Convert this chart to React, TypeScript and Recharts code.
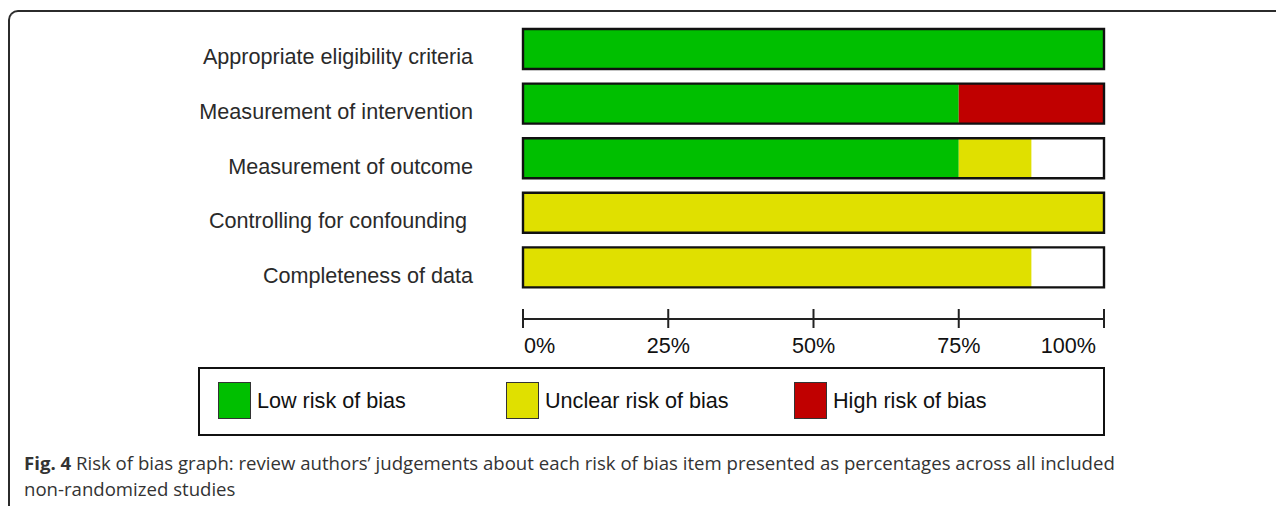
import React from 'react';
import { BarChart, Bar, XAxis, YAxis } from 'recharts';

const categories = [
  'Appropriate eligibility criteria',
  'Measurement of intervention',
  'Measurement of outcome',
  'Controlling for confounding\u00a0',
  'Completeness of data',
];
const lowRisk = [100, 75, 75, 0, 0];
const unclearRisk = [0, 0, 12.5, 100, 87.5];
const highRisk = [0, 25, 0, 0, 0];
const xTicks = [0, 25, 50, 75, 100];
const xTickLabels = ['0%', '25%', '50%', '75%', '100%'];
const legendLabels = ['Low risk of bias', 'Unclear risk of bias', 'High risk of bias'];
const seriesColors = ['#00bf00', '#e0e000', '#c00000'];

const data = categories.map((name, i) => ({
  name,
  low: lowRisk[i],
  unclear: unclearRisk[i],
  high: highRisk[i],
  total: 100,
}));

const FONT = '"Liberation Sans", Arial, Helvetica, sans-serif';

const YTick = (props: any) => {
  const { y, payload } = props;
  return (
    <text x={465} y={y + 15} textAnchor="end" fontFamily={FONT} fontSize={21.6} fill="#2a2a2a">
      {payload.value}
    </text>
  );
};

const XTick = (props: any) => {
  const { x, y, payload, index } = props;
  const anchor = index === 0 ? 'start' : index === xTicks.length - 1 ? 'end' : 'middle';
  const tx = index === 0 ? x + 1 : index === xTicks.length - 1 ? x - 8 : x;
  return (
    <g>
      <line x1={x} x2={x} y1={y - 10} y2={y + 9} stroke="#222" strokeWidth={2} />
      <text x={tx} y={y + 34} textAnchor={anchor} fontFamily={FONT} fontSize={21.6} fill="#111">
        {xTickLabels[xTicks.indexOf(payload.value)]}
      </text>
    </g>
  );
};

export default function App() {
  return (
    <div
      style={{
        position: 'relative',
        width: 1276,
        height: 498,
        overflow: 'hidden',
        background: '#fff',
      }}
    >
      <style>{'html,body{overflow:hidden;margin-bottom:0;}'}</style>
      <div
        style={{
          position: 'absolute',
          left: 0,
          top: 2,
          width: 1320,
          height: 560,
          borderTop: '2px solid #2b2b2b',
          borderLeft: '2px solid #2b2b2b',
          borderTopLeftRadius: 10,
          boxSizing: 'border-box',
        }}
      />
      <div style={{ position: 'absolute', left: 0, top: 0 }}>
        <BarChart
          width={1200}
          height={352}
          data={data}
          layout="vertical"
          margin={{ top: 14, right: 104, bottom: 0, left: 0 }}
          barSize={40}
          barGap={-40}
        >
          <XAxis
            type="number"
            domain={[0, 100]}
            ticks={xTicks}
            height={41}
            tickLine={false}
            tickSize={0}
            tickMargin={0}
            axisLine={{ stroke: '#222', strokeWidth: 2 }}
            tick={<XTick />}
            interval={0}
          />
          <YAxis
            type="category"
            dataKey="name"
            width={515}
            axisLine={false}
            tickLine={false}
            padding={{ top: 0, bottom: 24 }}
            tick={<YTick />}
            interval={0}
          />
          <Bar dataKey="low" stackId="risk" fill={seriesColors[0]} isAnimationActive={false} />
          <Bar dataKey="unclear" stackId="risk" fill={seriesColors[1]} isAnimationActive={false} />
          <Bar dataKey="high" stackId="risk" fill={seriesColors[2]} isAnimationActive={false} />
          <Bar
            dataKey="total"
            stackId="outline"
            fill="none"
            stroke="#111"
            strokeWidth={2.4}
            isAnimationActive={false}
          />
        </BarChart>
      </div>
      <div
        style={{
          position: 'absolute',
          left: 190,
          top: 359,
          width: 907,
          height: 69,
          border: '2px solid #111',
          boxSizing: 'border-box',
          fontFamily: FONT,
          fontSize: 21.6,
          color: '#111',
        }}
      >
        {legendLabels.map((label, i) => (
          <div
            key={label}
            style={{ position: 'absolute', left: 18 + i * 288, top: 13, display: 'flex', alignItems: 'center' }}
          >
            <div
              style={{
                width: 33,
                height: 37,
                background: seriesColors[i],
                border: '1.5px solid #333',
                boxSizing: 'border-box',
              }}
            />
            <span style={{ marginLeft: 6, lineHeight: '37px' }}>{label}</span>
          </div>
        ))}
      </div>
      <div
        style={{
          position: 'absolute',
          left: 16,
          top: 442,
          fontFamily: '"Open Sans", sans-serif',
          fontSize: 18.6,
          lineHeight: '26px',
          color: '#333',
          whiteSpace: 'nowrap',
        }}
      >
        <b>Fig. 4</b> Risk of bias graph: review authors’ judgements about each risk of bias item presented as percentages across all included
        <br />
        non-randomized studies
      </div>
    </div>
  );
}
